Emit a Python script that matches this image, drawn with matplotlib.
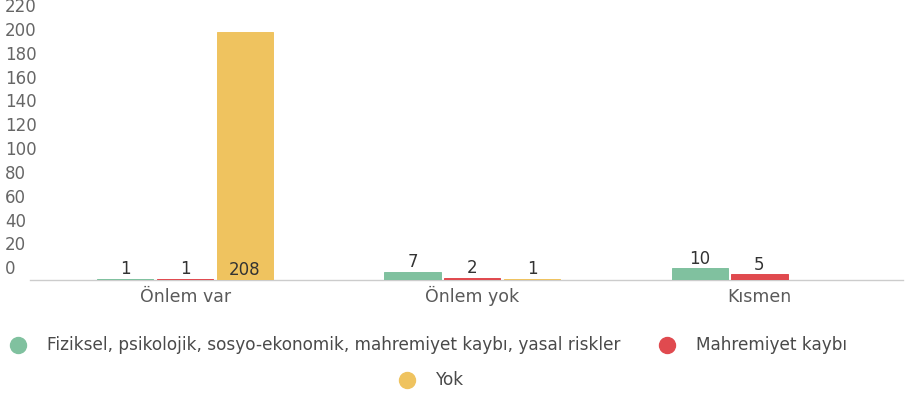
import matplotlib.pyplot as plt
import matplotlib.transforms as mtransforms
from matplotlib.lines import Line2D
import numpy as np

plt.rcParams['font.family'] = ['DejaVu Sans']

categories = ["Önlem var", "Önlem yok", "Kısmen"]
series_names = [
    "Fiziksel, psikolojik, sosyo-ekonomik, mahremiyet kaybı, yasal riskler",
    "Mahremiyet kaybı",
    "Yok",
]
fiziksel = [1, 7, 10]
mahremiyet = [1, 2, 5]
yok = [208, 1, None]
y_ticks = [0, 20, 40, 60, 80, 100, 120, 140, 160, 180, 200, 220]

colors = ["#80c19f", "#e04a4f", "#efc35f"]
W, H = 905, 395

fig = plt.figure(figsize=(W / 100, H / 100), dpi=100)
ax = fig.add_axes([30 / W, 1 - 280 / H, 873 / W, 262 / H])

x = np.arange(len(categories))
bar_w = 0.196
step = 0.208
for i, vals in enumerate([fiziksel, mahremiyet, yok]):
    for xi, v in zip(x, vals):
        if v is None:
            continue
        xpos = xi + (i - 1) * step
        ax.bar(xpos, v, width=bar_w, color=colors[i], edgecolor=colors[i],
               linewidth=0.7, zorder=3)
        # big bars get their label at the bottom, inside
        ly = v + 8 if v < 150 else 8
        ax.text(xpos, ly, str(v), ha="center", va="center",
                fontsize=12, color="#333333", zorder=4)

ax.set_xlim(-0.54, 2.5)
ax.set_ylim(0, 220)
for s in ["top", "right", "left"]:
    ax.spines[s].set_visible(False)
ax.spines["bottom"].set_color("#cccccc")
ax.spines["bottom"].set_linewidth(1)
ax.spines["bottom"].set_zorder(1)
ax.set_yticks([])
ax.set_xticks(x)
ax.set_xticklabels(categories, fontsize=12.5, color="#5a5a5a")
ax.tick_params(axis="x", length=0, pad=16)
for lab in ax.get_xticklabels():
    lab.set_va("baseline")

# y tick labels sit above their positions, left aligned at the figure edge
trans = mtransforms.blended_transform_factory(fig.transFigure, ax.transData)
for t in y_ticks:
    ax.text(5 / W, t + 1.5, str(t), transform=trans, ha="left", va="bottom",
            fontsize=12, color="#666666", clip_on=False)

# legend drawn by hand: two items on first row, third centered below
legend_items = [
    (18, 345, 47, 0),
    (667, 345, 696, 1),
    (407, 380, 436, 2),
]
for mx, my, tx, idx in legend_items:
    fig.add_artist(Line2D([mx / W], [1 - my / H], marker="o", markersize=11.5,
                          color=colors[idx], linestyle="none",
                          transform=fig.transFigure))
    fig.text(tx / W, 1 - my / H, series_names[idx], ha="left", va="center",
             fontsize=12.2, color="#4a4a4a")

fig.savefig("out.png", dpi=100)
